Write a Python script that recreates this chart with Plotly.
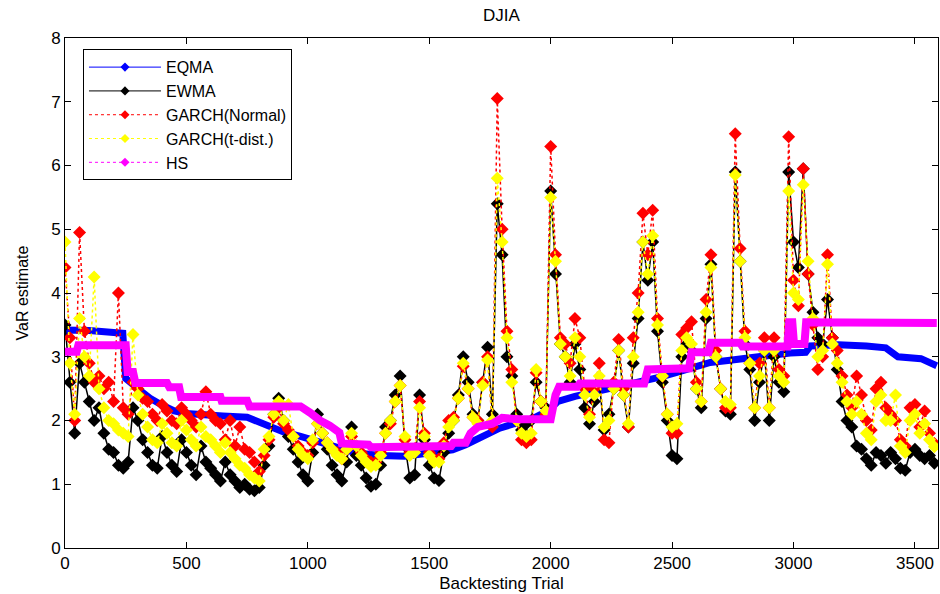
import plotly.graph_objects as go

# ---- data -------------------------------------------------------------
trial = list(range(0, 3600, 20))   # backtesting trial grid (180 points)

ewma = [
    3.5, 2.6, 1.8, 2.9, 2.6, 2.3, 2.0, 2.2, 1.8, 1.55, 1.5, 1.3, 1.25, 1.35, 2.2,
    2.0, 1.7, 1.5, 1.3, 1.25, 1.75, 1.5, 1.3, 1.2, 1.7, 1.5, 1.3, 1.15, 1.6, 1.35,
    1.25, 1.15, 1.05, 1.35, 1.15, 1.05, 0.95, 1.0, 0.92, 0.9, 0.95, 1.3, 1.6, 2.1, 2.35,
    2.0, 1.75, 1.55, 1.35, 1.15, 1.05, 1.5, 2.1, 1.8, 1.55, 1.3, 1.15, 1.05, 1.35, 1.9,
    1.45, 1.3, 1.1, 0.97, 1.0, 1.3, 1.9, 2.0, 2.4, 2.7, 1.6, 1.1, 1.15, 2.4, 1.7,
    1.3, 1.1, 1.06, 1.5, 1.8, 2.0, 2.4, 3.0, 2.6, 2.1, 2.0, 2.6, 3.15, 2.1, 5.4,
    4.6, 3.0, 2.7, 2.1, 1.85, 1.95, 2.0, 2.6, 2.3, 2.2, 5.6, 4.3, 3.2, 3.0, 2.6,
    3.2, 2.8, 2.2, 1.95, 2.3, 2.6, 1.85, 2.1, 2.5, 3.1, 2.4, 1.9, 2.9, 3.6, 4.8,
    4.2, 4.8, 3.4, 2.6, 2.0, 1.45, 1.4, 3.0, 3.2, 3.1, 2.5, 2.2, 3.6, 4.45, 3.0,
    2.5, 2.15, 2.1, 5.9, 4.5, 3.2, 2.8, 2.0, 2.6, 3.1, 2.0, 3.0, 2.6, 2.45, 5.9,
    4.8, 4.4, 5.95, 4.3, 3.7, 3.3, 3.2, 3.9, 3.3, 2.8, 2.3, 2.0, 1.9, 1.6, 1.55,
    1.4, 1.3, 1.5, 1.45, 1.33, 1.5, 1.4, 1.25, 1.22, 1.5, 1.55, 1.45, 1.4, 1.45, 1.33,
]

garch_normal = [
    4.4, 3.3, 2.0, 4.95, 3.4, 2.9, 2.6, 2.7, 2.5, 2.6, 2.3, 4.0, 2.2, 2.1, 2.6,
    2.5, 2.35, 2.3, 2.1, 2.0, 2.25, 2.15, 2.0, 1.95, 2.2, 2.1, 2.0, 1.9, 2.1, 2.45,
    2.1, 2.0, 1.95, 1.7, 2.0, 1.6, 1.9, 1.55, 1.5, 1.35, 1.2, 1.45, 1.7, 2.05, 2.2,
    1.95, 1.85, 1.75, 1.6, 1.5, 1.45, 1.65, 1.95, 1.8, 1.65, 1.55, 1.5, 1.4, 1.55, 1.75,
    1.6, 1.5, 1.4, 1.35, 1.35, 1.5, 1.8, 1.95, 2.3, 2.55, 1.7, 1.5, 1.55, 2.3, 1.8,
    1.5, 1.4, 1.4, 1.65, 2.0, 2.05, 2.35, 2.85, 2.5, 2.05, 2.0, 2.6, 3.0, 1.9, 7.05,
    5.0, 3.4, 2.8, 2.0, 1.7, 1.65, 1.7, 2.75, 2.3, 2.1, 6.3, 4.6, 3.3, 3.2, 2.9,
    3.6, 3.3, 2.5, 2.1, 2.5, 2.9, 1.7, 1.65, 2.6, 3.27, 2.5, 1.9, 3.3, 4.0, 5.25,
    4.6, 5.3, 3.6, 2.7, 2.1, 1.8, 1.8, 3.35, 3.45, 3.55, 2.6, 2.3, 3.9, 4.6, 3.1,
    2.5, 2.2, 2.2, 6.5, 4.7, 3.4, 2.9, 2.2, 2.9, 3.3, 2.2, 3.3, 2.8, 2.7, 6.45,
    4.2, 3.8, 5.95, 4.3, 3.5, 2.8, 3.0, 4.6, 3.3, 3.1, 2.7, 2.4, 2.2, 2.7, 2.4,
    2.0, 1.85, 2.5, 2.6, 2.2, 2.1, 2.0, 1.7, 1.6, 2.2, 2.25, 1.9, 2.15, 1.8, 1.64,
]

garch_t = [
    4.8, 2.9, 2.1, 3.6, 3.0, 2.7, 4.25, 2.5, 2.2, 2.0, 1.95, 1.85, 1.8, 1.75, 3.35,
    2.4, 2.1, 1.9, 1.7, 1.65, 1.95, 1.8, 1.65, 1.6, 2.0, 1.85, 1.7, 1.6, 1.9, 1.75,
    1.7, 1.6, 1.5, 1.65, 1.5, 1.4, 1.3, 1.25, 1.15, 1.1, 1.05, 1.55, 1.75, 2.1, 2.3,
    2.0, 2.25, 1.75, 1.55, 1.45, 1.4, 1.7, 1.95, 1.8, 1.65, 1.55, 1.45, 1.4, 1.55, 1.8,
    1.6, 1.45, 1.35, 1.28, 1.3, 1.45, 1.8, 2.0, 2.3, 2.55, 1.75, 1.45, 1.5, 2.2, 1.75,
    1.45, 1.35, 1.35, 1.6, 1.9, 2.0, 2.35, 2.9, 2.5, 2.05, 1.95, 2.55, 2.95, 2.0, 5.8,
    4.8, 3.3, 2.6, 2.0, 1.8, 1.75, 1.8, 2.8, 2.3, 2.15, 5.5, 4.5, 3.2, 3.0, 2.7,
    3.3, 3.0, 2.4, 2.05, 2.4, 2.7, 1.9, 2.0, 2.5, 3.1, 2.4, 1.95, 3.0, 3.7, 4.8,
    4.3, 4.9, 3.5, 2.7, 2.1, 1.9, 1.95, 3.1, 3.3, 3.2, 2.5, 2.3, 3.7, 4.4, 3.0,
    2.5, 2.3, 2.25, 5.85, 4.5, 3.3, 2.9, 2.2, 2.7, 3.1, 2.2, 3.1, 2.7, 2.6, 5.6,
    4.0, 3.9, 5.7, 4.5, 3.6, 3.0, 3.1, 4.45, 3.2, 2.9, 2.6, 2.3, 2.1, 2.3, 2.1,
    1.8, 1.7, 2.3, 2.4, 2.0, 2.0, 2.4, 1.6, 1.5, 2.0, 2.1, 1.8, 1.95, 1.7, 1.59,
]

eqma_trial = [0, 10, 100, 200, 238, 244, 250, 300, 350, 400, 450, 500, 577, 650, 750,
              800, 833, 900, 970, 1050, 1110, 1190, 1250, 1300, 1400, 1460, 1500, 1596,
              1650, 1700, 1790, 1850, 1900, 1988, 2030, 2100, 2223, 2300, 2380, 2450,
              2516, 2600, 2657, 2730, 2793, 2900, 2987, 3050, 3070, 3185, 3300, 3380,
              3430, 3525, 3590]
eqma = [3.3, 3.42, 3.41, 3.39, 3.37, 3.0, 2.66, 2.5, 2.35, 2.24, 2.15, 2.11, 2.08, 2.07,
        2.05, 1.97, 1.9, 1.82, 1.75, 1.66, 1.59, 1.5, 1.47, 1.45, 1.44, 1.47, 1.48, 1.54,
        1.62, 1.72, 1.88, 1.95, 1.98, 2.15, 2.3, 2.38, 2.48, 2.53, 2.6, 2.68, 2.75, 2.85,
        2.91, 2.94, 2.96, 3.02, 3.06, 3.07, 3.17, 3.19, 3.17, 3.14, 3.0, 2.97, 2.86]

hs_trial = [0, 48, 55, 250, 258, 280, 290, 420, 430, 470, 478, 640, 645, 750, 760, 970,
            1010, 1050, 1090, 1130, 1140, 1250, 1260, 1590, 1600, 1650, 1670, 1700, 1760,
            1800, 1870, 2000, 2020, 2035, 2110, 2120, 2385, 2400, 2570, 2580, 2650, 2660,
            2780, 2790, 2975, 2982, 2995, 3002, 3045, 3052, 3590]
hs = [3.08, 3.08, 3.18, 3.18, 2.76, 2.76, 2.59, 2.59, 2.52, 2.52, 2.37, 2.37, 2.31, 2.31,
      2.22, 2.22, 2.12, 2.0, 1.92, 1.81, 1.64, 1.62, 1.58, 1.6, 1.65, 1.65, 1.8, 1.9, 1.95,
      2.04, 2.02, 2.02, 2.4, 2.53, 2.53, 2.58, 2.58, 2.8, 2.82, 3.07, 3.07, 3.22, 3.22,
      3.16, 3.16, 3.54, 3.54, 3.2, 3.2, 3.54, 3.53]

series_names = ["EQMA", "EWMA", "GARCH(Normal)", "GARCH(t-dist.)", "HS"]

x_ticks = [0, 500, 1000, 1500, 2000, 2500, 3000, 3500]
y_ticks = [0, 1, 2, 3, 4, 5, 6, 7, 8]

BLUE, BLACK, RED, YELLOW, MAGENTA = "#0000ff", "#000000", "#ff0000", "#ffff00", "#ff00ff"
FONT = "Liberation Sans, Arial, sans-serif"
MK = dict(symbol="diamond", size=10, line=dict(width=0))
MK_LEG = dict(symbol="diamond", size=7, line=dict(width=0))

fig = go.Figure()

# data traces (drawing order as in the original)
fig.add_trace(go.Scatter(x=eqma_trial, y=eqma, mode="lines",
                         line=dict(color=BLUE, width=7), showlegend=False, hoverinfo="skip"))
fig.add_trace(go.Scatter(x=trial, y=ewma, mode="lines+markers", name=series_names[1],
                         showlegend=False,
                         line=dict(color=BLACK, width=1.5), marker=dict(color=BLACK, **MK)))
fig.add_trace(go.Scatter(x=trial, y=garch_normal, mode="lines+markers", name=series_names[2],
                         showlegend=False, line=dict(color=RED, width=1.5, dash="dot"),
                         marker=dict(color=RED, **MK)))
fig.add_trace(go.Scatter(x=trial, y=garch_t, mode="lines+markers", name=series_names[3],
                         showlegend=False, line=dict(color=YELLOW, width=1.5, dash="dot"),
                         marker=dict(color=YELLOW, **MK)))
fig.add_trace(go.Scatter(x=hs_trial, y=hs, mode="lines",
                         line=dict(color=MAGENTA, width=8), showlegend=False, hoverinfo="skip"))

# legend entries (thin line + small diamond, like the original key)
leg_styles = [
    (BLUE, "solid"), (BLACK, "solid"), (RED, "dot"), (YELLOW, "dot"), (MAGENTA, "dot"),
]
for rank, (name, (col, dash)) in enumerate(zip(series_names, leg_styles), start=1):
    fig.add_trace(go.Scatter(x=[None], y=[None], mode="lines+markers", name=name,
                             legendrank=rank, line=dict(color=col, width=1, dash=dash),
                             marker=dict(color=col, **MK_LEG)))

axis_common = dict(showline=True, linecolor="black", linewidth=1, mirror="ticks",
                   ticks="inside", ticklen=6, tickcolor="black", showgrid=False,
                   zeroline=False, tickfont=dict(family=FONT, size=17, color="black"))

fig.update_layout(
    width=940, height=594,
    margin=dict(l=65, r=2, t=38, b=46),
    paper_bgcolor="white", plot_bgcolor="white",
    font=dict(family=FONT, color="black"),
    title=dict(text="DJIA", x=0.5, xref="paper", y=1 - 15 / 594, yanchor="middle",
               font=dict(family=FONT, size=17, color="black")),
    xaxis=dict(range=[0, 3595], tickvals=x_ticks,
               title=dict(text="Backtesting Trial", font=dict(family=FONT, size=17), standoff=4),
               **axis_common),
    yaxis=dict(range=[0, 8], tickvals=y_ticks,
               title=dict(text="VaR estimate", font=dict(family=FONT, size=16), standoff=18),
               **axis_common),
    legend=dict(x=0.0206, y=0.978, xanchor="left", yanchor="top",
                bgcolor="white", bordercolor="black", borderwidth=1,
                font=dict(family=FONT, size=16, color="black"),
                itemwidth=72, tracegroupgap=0),
    showlegend=True,
)

fig.write_html("out.html")
